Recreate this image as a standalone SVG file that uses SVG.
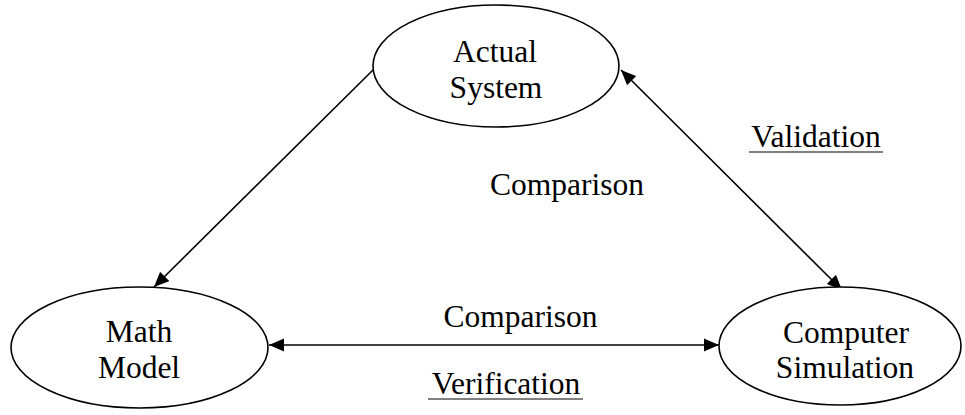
<svg xmlns="http://www.w3.org/2000/svg" width="965" height="415" viewBox="0 0 965 415">
<style>
.node{fill:#fff;stroke:#000;stroke-width:1.6}
.t{font-family:"Liberation Serif","Times New Roman",serif;font-size:31.5px;fill:#000;text-anchor:middle}
.lbl{font-family:"Liberation Serif","Times New Roman",serif;font-size:31.5px;fill:#000;text-anchor:middle}
.edge{stroke:#000;stroke-width:1.6;fill:none}
.ul{stroke:#808080;stroke-width:2}
</style>
<defs>
<marker id="ah" markerUnits="userSpaceOnUse" markerWidth="16" markerHeight="14" refX="15" refY="6.5" orient="auto-start-reverse" viewBox="0 0 16 13">
<path d="M0,0 L15,6.5 L0,13 z" fill="#000"/>
</marker>
</defs>
<rect width="965" height="415" fill="#fff"/>
<g id="connectors">
<line class="edge" x1="375" y1="68" x2="154" y2="287" marker-end="url(#ah)"/>
<line class="edge" x1="269" y1="345" x2="719" y2="345" marker-start="url(#ah)" marker-end="url(#ah)"/>
<line class="edge" x1="621" y1="70" x2="842" y2="290" marker-start="url(#ah)" marker-end="url(#ah)"/>
</g>
<g id="actual-system">
<ellipse class="node" cx="496" cy="66" rx="123" ry="61"/>
<text class="t" x="495" y="62">Actual</text>
<text class="t" x="496" y="98">System</text>
</g>
<g id="math-model">
<ellipse class="node" cx="139.5" cy="347.5" rx="128.5" ry="60.5"/>
<text class="t" x="139" y="342">Math</text>
<text class="t" x="139" y="378">Model</text>
</g>
<g id="computer-simulation">
<ellipse class="node" cx="840" cy="346" rx="121" ry="59"/>
<text class="t" x="846" y="343">Computer</text>
<text class="t" x="845" y="378">Simulation</text>
</g>
<g id="labels">
<text class="lbl" x="567" y="195">Comparison</text>
<text class="lbl" x="520.5" y="327">Comparison</text>
<text class="lbl" x="816" y="147">Validation</text>
<line class="ul" x1="749" y1="152" x2="883" y2="152"/>
<text class="lbl" x="506" y="394">Verification</text>
<line class="ul" x1="428" y1="399" x2="583" y2="399"/>
</g>
</svg>
